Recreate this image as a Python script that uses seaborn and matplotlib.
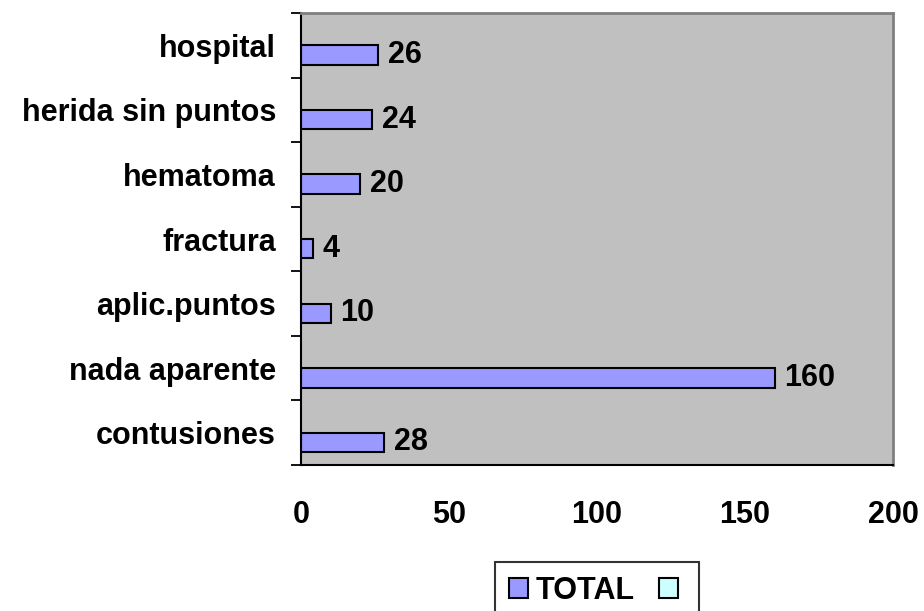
import matplotlib
matplotlib.use("Agg")
import matplotlib.pyplot as plt
from matplotlib.patches import Patch
import numpy as np
import pandas as pd
import seaborn as sns

# Injury outcome counts, listed top to bottom
categories = ["hospital", "herida sin puntos", "hematoma", "fractura",
              "aplic.puntos", "nada aparente", "contusiones"]
totals = [26, 24, 20, 4, 10, 160, 28]
series_names = [" ", "TOTAL"]          # second series is empty
x_ticks = [0, 50, 100, 150, 200]

sns.set_theme(style="white")
plt.rcParams["font.family"] = ["Liberation Sans", "DejaVu Sans"]
plt.rcParams["font.weight"] = "bold"
for key in ["text.color", "axes.labelcolor", "xtick.color", "ytick.color"]:
    plt.rcParams[key] = "black"

FS = 22

df = pd.DataFrame({
    "categoria": categories * 2,
    "serie": [series_names[0]] * len(categories) + [series_names[1]] * len(categories),
    "valor": [np.nan] * len(categories) + totals,
})

fig = plt.figure(figsize=(9.24, 6.11), dpi=100)
ax = fig.add_axes([301 / 924, 1 - 465 / 611, (893 - 301) / 924, (465 - 13) / 611])

palette = {series_names[0]: "#ccffff", series_names[1]: "#9999ff"}
sns.barplot(data=df, x="valor", y="categoria", hue="serie", order=categories,
            hue_order=series_names, palette=palette, orient="h", width=0.6,
            edgecolor="black", linewidth=1.5, saturation=1, legend=False, ax=ax)

ax.set_facecolor("#c0c0c0")
ax.set_xlim(0, 200)
ax.set_ylim(len(categories) - 0.5, -0.5)
ax.set_xlabel("")
ax.set_ylabel("")

# value labels on the TOTAL bars
total_container = ax.containers[-1]
ax.bar_label(total_container, labels=[str(v) for v in totals], padding=7,
             fontsize=FS, fontweight="bold", color="black")

# x axis
ax.set_xticks(x_ticks)
ax.set_xticklabels([str(t) for t in x_ticks], fontsize=FS, fontweight="bold")
ax.tick_params(axis="x", direction="out", length=7, width=1.3, colors="black", pad=18)

# y axis: category names centered, tick marks on the boundaries
n = len(categories)
ax.set_yticks(np.arange(-0.5, n, 1.0))
ax.set_yticklabels([])
ax.set_yticks(np.arange(n), minor=True)
ax.set_yticklabels(categories, minor=True, fontsize=FS, fontweight="bold")
ax.tick_params(axis="y", which="major", direction="out", length=7, width=1.3,
               colors="black", left=True)
ax.tick_params(axis="y", which="minor", length=0, pad=18, colors="black")

for side in ["left", "bottom"]:
    ax.spines[side].set_color("black")
    ax.spines[side].set_linewidth(1.5)
for side in ["top", "right"]:
    ax.spines[side].set_color("#808080")
    ax.spines[side].set_linewidth(2)

handles = [Patch(facecolor="#9999ff", edgecolor="black", linewidth=1.5),
           Patch(facecolor="#ccffff", edgecolor="black", linewidth=1.5)]
leg = fig.legend(handles, ["TOTAL", ""], ncol=2, loc="upper left",
                 bbox_to_anchor=(495 / 924, 1 - 562 / 611),
                 prop={"family": "Liberation Sans", "weight": "bold", "size": FS},
                 frameon=True, fancybox=False, edgecolor="black",
                 handlelength=0.62, handleheight=0.62, handletextpad=0.25,
                 columnspacing=0.8, borderpad=0.45, borderaxespad=0)
leg.get_frame().set_linewidth(1.5)
for t in leg.get_texts():
    t.set_color("black")

fig.savefig("out.png", dpi=100, facecolor="white")
